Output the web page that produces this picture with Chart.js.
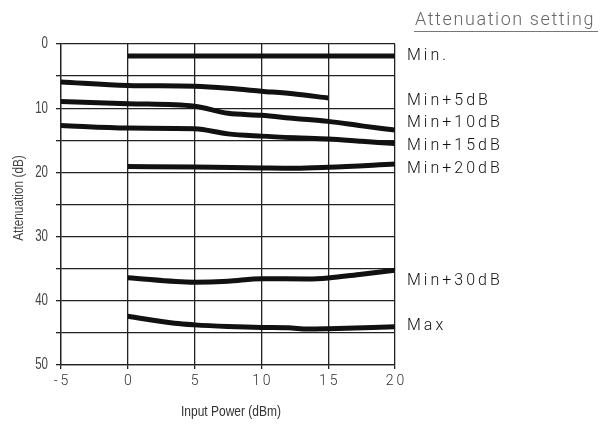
<!DOCTYPE html>
<html><head><meta charset="utf-8">
<script src="https://cdn.jsdelivr.net/npm/chart.js@4"></script>
<style>html,body{margin:0;padding:0;background:#fff}#wrap{width:610px;height:424px}</style>
</head><body><div id="wrap"><canvas id="c" width="610" height="424"></canvas></div>
<script>
const seriesNames = ['Min.', 'Min+5dB', 'Min+10dB', 'Min+15dB', 'Min+20dB', 'Min+30dB', 'Max'];
const minX = [0, 5, 10, 15, 20];
const minY = [1.85, 1.85, 1.85, 1.85, 1.85];
const min5X = [-5, 0, 5, 7.5, 10, 12.5, 15];
const min5Y = [5.9, 6.45, 6.6, 6.9, 7.35, 7.8, 8.4];
const min10X = [-5, 0, 5, 7.5, 10, 12.5, 15, 17.5, 20];
const min10Y = [8.95, 9.3, 9.7, 10.8, 11.1, 11.6, 12.05, 12.75, 13.4];
const min15X = [-5, 0, 5, 7.5, 10, 12.5, 15, 17.5, 20];
const min15Y = [12.7, 13.1, 13.2, 14.0, 14.35, 14.6, 14.8, 15.15, 15.5];
const min20X = [0, 5, 10, 12.5, 15, 20];
const min20Y = [19.1, 19.15, 19.3, 19.35, 19.2, 18.7];
const min30X = [0, 5, 7.5, 10, 13.5, 15, 17.5, 20];
const min30Y = [36.4, 37.1, 36.95, 36.55, 36.6, 36.45, 35.85, 35.25];
const maxX = [0, 3.5, 5, 7.5, 10, 12, 13.5, 15, 20];
const maxY = [42.4, 43.5, 43.75, 44.0, 44.15, 44.2, 44.4, 44.35, 44.05];
const xTickLabels = {'-5': '-\u20095', '0': '0', '5': '5', '10': '1\u20090', '15': '1\u20095', '20': '2\u20090'};
const yTickLabels = {0: '0', 10: '10', 20: '20', 30: '30', 40: '40', 50: '50'};
const labelAnchorY = [1.85, 8.85, 12.35, 15.95, 19.4, 36.9, 43.95];
const xTitle = 'Input Power (dBm)';
const yTitle = 'Attenuation (dB)';
const legendTitle = 'Attenuation setting';

const xs = [minX, min5X, min10X, min15X, min20X, min30X, maxX];
const ys = [minY, min5Y, min10Y, min15Y, min20Y, min30Y, maxY];
const datasets = seriesNames.map((n, i) => ({
  label: n,
  data: xs[i].map((x, k) => ({x: x, y: ys[i][k]})),
  borderColor: '#111',
  borderWidth: 5,
  pointRadius: 0,
  cubicInterpolationMode: 'monotone',
  fill: false,
  borderCapStyle: 'butt'
}));

function condensedText(ctx, text, x, y, sx, align) {
  ctx.save();
  ctx.translate(x, y);
  ctx.scale(sx, 1);
  ctx.textAlign = align;
  ctx.fillText(text, 0, 0);
  ctx.restore();
}

const sidePlugin = {
  id: 'side',
  afterDraw(chart) {
    const ctx = chart.ctx, area = chart.chartArea, sy = chart.scales.y;
    ctx.save();
    ctx.fillStyle = '#111';
    ctx.font = '300 16px Roboto';
    ctx.letterSpacing = '3px';
    ctx.textBaseline = 'middle';
    ctx.textAlign = 'left';
    seriesNames.forEach((n, i) => {
      ctx.fillText(n, area.right + 12, sy.getPixelForValue(labelAnchorY[i]));
    });
    ctx.letterSpacing = '1.6px';
    ctx.fillStyle = '#666';
    ctx.font = '300 18px Roboto';
    ctx.textBaseline = 'alphabetic';
    ctx.fillText(legendTitle, 415, 25);
    ctx.letterSpacing = '0px';
    ctx.strokeStyle = '#777';
    ctx.lineWidth = 1;
    ctx.beginPath();
    ctx.moveTo(414, 31.5);
    ctx.lineTo(598, 31.5);
    ctx.stroke();
    ctx.fillStyle = '#444';
    ctx.font = '16px "Liberation Sans"';
    ctx.textBaseline = 'middle';
    Object.keys(yTickLabels).forEach(v => {
      condensedText(ctx, yTickLabels[v], area.left - 13, sy.getPixelForValue(Number(v)), 0.72, 'right');
    });
    ctx.font = '15px "Liberation Sans"';
    ctx.fillStyle = '#333';
    condensedText(ctx, xTitle, 231, 412, 0.8, 'center');
    ctx.fillStyle = '#444';
    ctx.save();
    ctx.translate(19, 198);
    ctx.rotate(-Math.PI / 2);
    ctx.scale(0.79, 1);
    ctx.textAlign = 'center';
    ctx.fillText(yTitle, 0, 0);
    ctx.restore();
    ctx.restore();
  }
};

new Chart(document.getElementById('c'), {
  type: 'line',
  data: {datasets: datasets},
  options: {
    responsive: false,
    animation: false,
    layout: {padding: {top: 44, right: 215, left: 0, bottom: 0}},
    plugins: {legend: {display: false}, tooltip: {enabled: false}},
    scales: {
      x: {
        type: 'linear', min: -5, max: 20,
        afterFit(s) { s.height = 59; },
        border: {display: true, color: '#222', width: 1.3},
        grid: {color: '#222', lineWidth: 1.3, tickLength: 4, drawTicks: true},
        ticks: {stepSize: 5, color: '#333', font: {family: 'Roboto', size: 14, weight: 300}, padding: 4,
          callback: v => xTickLabels[String(v)] ?? ''}
      },
      y: {
        type: 'linear', min: 0, max: 50, reverse: true,
        afterFit(s) { s.width = 61; },
        border: {display: true, color: '#222', width: 1.3},
        grid: {color: '#222', lineWidth: 1.3, tickLength: 5, drawTicks: true},
        ticks: {stepSize: 5, display: false}
      }
    }
  },
  plugins: [sidePlugin]
});
</script></body></html>
